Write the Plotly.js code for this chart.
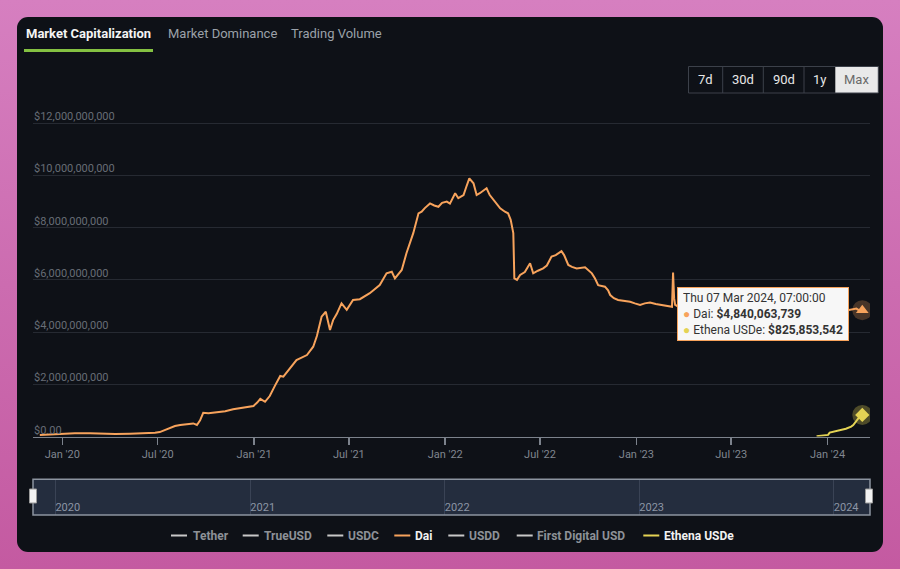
<!DOCTYPE html>
<html><head><meta charset="utf-8">
<script src="https://cdn.plot.ly/plotly-3.0.1.min.js"></script>
<style>
html,body{margin:0;padding:0;width:900px;height:569px;overflow:hidden;background:linear-gradient(180deg,#d67fc0 0%,#cc6cb0 50%,#c45aa1 100%);}
#card{position:absolute;left:17px;top:17px;width:866px;height:535px;border-radius:11px;background:#0e1117;}
#chart{position:absolute;left:0;top:0;width:900px;height:569px;}
</style></head><body>
<div id="card"></div><div id="chart"></div>
<script>
// ---------- DATA ----------
const daiDates = ['2019-11-19','2019-11-28','2019-12-08','2019-12-20','2020-01-01','2020-01-25','2020-02-23','2020-03-13','2020-03-25','2020-04-11','2020-05-09','2020-06-07','2020-06-26','2020-07-05','2020-07-15','2020-07-25','2020-08-03','2020-08-13','2020-08-22','2020-09-07','2020-09-14','2020-09-20','2020-09-26','2020-10-06','2020-10-18','2020-11-07','2020-11-22','2020-12-11','2020-12-31','2021-01-07','2021-01-13','2021-01-22','2021-01-31','2021-02-10','2021-02-20','2021-02-26','2021-03-11','2021-03-23','2021-04-12','2021-04-24','2021-05-01','2021-05-10','2021-05-18','2021-05-26','2021-06-01','2021-06-08','2021-06-17','2021-06-27','2021-07-09','2021-07-22','2021-08-10','2021-08-29','2021-09-11','2021-09-21','2021-09-27','2021-10-10','2021-10-19','2021-11-01','2021-11-11','2021-11-17','2021-11-23','2021-12-03','2021-12-11','2021-12-19','2021-12-26','2022-01-04','2022-01-10','2022-01-20','2022-01-26','2022-02-05','2022-02-10','2022-02-16','2022-02-24','2022-03-02','2022-03-08','2022-03-14','2022-03-21','2022-03-27','2022-04-02','2022-04-09','2022-04-16','2022-04-25','2022-05-01','2022-05-06','2022-05-11','2022-05-13','2022-05-18','2022-05-24','2022-06-02','2022-06-12','2022-06-18','2022-06-27','2022-07-07','2022-07-14','2022-07-23','2022-07-31','2022-08-11','2022-08-16','2022-08-24','2022-08-31','2022-09-09','2022-09-25','2022-10-08','2022-10-14','2022-10-20','2022-11-02','2022-11-08','2022-11-12','2022-11-19','2022-11-27','2022-12-08','2022-12-20','2022-12-29','2023-01-08','2023-01-17','2023-01-27','2023-02-07','2023-02-21','2023-03-02','2023-03-10','2023-03-12','2023-03-14','2023-03-16','2023-03-20','2023-04-15','2023-05-15','2023-06-15','2023-07-15','2023-08-15','2023-09-15','2023-10-15','2023-11-15','2023-12-15','2024-01-15','2024-02-11','2024-02-25','2024-03-02','2024-03-07 07:00:00'];
const daiCap = [0.06e9,0.07e9,0.08e9,0.09e9,0.10e9,0.12e9,0.12e9,0.11e9,0.10e9,0.10e9,0.11e9,0.12e9,0.14e9,0.17e9,0.25e9,0.33e9,0.40e9,0.44e9,0.46e9,0.50e9,0.44e9,0.62e9,0.91e9,0.89e9,0.92e9,0.97e9,1.04e9,1.10e9,1.17e9,1.30e9,1.44e9,1.33e9,1.55e9,1.95e9,2.32e9,2.29e9,2.62e9,2.93e9,3.12e9,3.44e9,3.85e9,4.59e9,4.78e9,4.08e9,4.46e9,4.70e9,5.10e9,4.85e9,5.23e9,5.26e9,5.49e9,5.80e9,6.25e9,6.31e9,6.06e9,6.38e9,7.02e9,7.79e9,8.55e9,8.61e9,8.75e9,8.93e9,8.85e9,8.80e9,8.95e9,9.00e9,8.92e9,9.32e9,9.13e9,9.25e9,9.55e9,9.89e9,9.70e9,9.25e9,9.32e9,9.40e9,9.51e9,9.25e9,9.10e9,8.95e9,8.74e9,8.61e9,8.55e9,8.30e9,7.79e9,6.06e9,6.00e9,6.19e9,6.30e9,6.64e9,6.25e9,6.35e9,6.44e9,6.55e9,6.89e9,6.95e9,7.10e9,6.95e9,6.57e9,6.50e9,6.44e9,6.48e9,6.25e9,6.05e9,5.80e9,5.74e9,5.60e9,5.42e9,5.30e9,5.23e9,5.20e9,5.16e9,5.10e9,5.04e9,5.10e9,5.13e9,5.08e9,5.04e9,5.00e9,4.97e9,6.28e9,5.30e9,5.04e9,5.00e9,4.65e9,4.90e9,4.60e9,4.45e9,5.30e9,5.35e9,5.25e9,5.30e9,5.20e9,5.00e9,4.85e9,4.90e9,4.82e9,4840063739];
const usdeDates = ['2023-12-11','2023-12-20','2024-01-02','2024-01-05','2024-01-15','2024-01-24','2024-02-05','2024-02-15','2024-02-19','2024-02-29','2024-03-07 07:00:00'];
const usdeCap = [0.01e9,0.03e9,0.06e9,0.15e9,0.20e9,0.25e9,0.30e9,0.38e9,0.44e9,0.70e9,825853542];

const seriesNames = ['Tether','TrueUSD','USDC','Dai','USDD','First Digital USD','Ethena USDe'];
const seriesColors = ['#7cb5ec','#434348','#90ed7d','#f7a35c','#8085e9','#f15c80','#e4d354'];
const seriesShown = [false,false,false,true,false,false,true];

const tabLabels = ['Market Capitalization','Market Dominance','Trading Volume'];
const rangeButtons = ['7d','30d','90d','1y','Max'];

const xTickVals = ['2020-01-01','2020-07-01','2021-01-01','2021-07-01','2022-01-01','2022-07-01','2023-01-01','2023-07-01','2024-01-01'];
const xTickText = ["Jan '20","Jul '20","Jan '21","Jul '21","Jan '22","Jul '22","Jan '23","Jul '23","Jan '24"];
const yTickVals = [0,2e9,4e9,6e9,8e9,10e9,12e9];
const yTickText = ['$0.00','$2,000,000,000','$4,000,000,000','$6,000,000,000','$8,000,000,000','$10,000,000,000','$12,000,000,000'];
const navTickVals = ['2020-01-01','2021-01-01','2022-01-01','2023-01-01','2024-01-01'];
const navTickText = ['2020','2021','2022','2023','2024'];

// ---------- LAYOUT HELPERS ----------
const H = 569, L = 33, R = 870;
const px = x => (x - L) / (R - L);
const py = y => (H - y) / H;
const FONT = 'Roboto, "Open Sans", sans-serif';
const DAI = seriesColors[3], USDE = seriesColors[6];

const last = a => a[a.length - 1];
const fmt = v => '$' + Math.round(v).toLocaleString('en-US');
function fmtDate(s) {
  const d = new Date(s.replace(' ', 'T'));
  const wd = ['Sun','Mon','Tue','Wed','Thu','Fri','Sat'][d.getDay()];
  const mo = ['Jan','Feb','Mar','Apr','May','Jun','Jul','Aug','Sep','Oct','Nov','Dec'][d.getMonth()];
  const p = n => String(n).padStart(2, '0');
  return `${wd} ${p(d.getDate())} ${mo} ${d.getFullYear()}, ${p(d.getHours())}:${p(d.getMinutes())}:${p(d.getSeconds())}`;
}

const traces = [
  {x: daiDates, y: daiCap, type: 'scatter', mode: 'lines', line: {color: DAI, width: 2}, hoverinfo: 'skip', showlegend: false},
  {x: usdeDates, y: usdeCap, type: 'scatter', mode: 'lines', line: {color: USDE, width: 2}, hoverinfo: 'skip', showlegend: false},
  {x: [last(daiDates)], y: [last(daiCap)], type: 'scatter', mode: 'markers', marker: {size: 20, color: 'rgba(247,163,92,0.25)'}, hoverinfo: 'skip', showlegend: false},
  {x: [last(daiDates)], y: [last(daiCap)], type: 'scatter', mode: 'markers', marker: {size: 11, symbol: 'triangle-up', color: DAI}, hoverinfo: 'skip', showlegend: false},
  {x: [last(usdeDates)], y: [last(usdeCap)], type: 'scatter', mode: 'markers', marker: {size: 20, color: 'rgba(228,211,84,0.3)'}, hoverinfo: 'skip', showlegend: false},
  {x: [last(usdeDates)], y: [last(usdeCap)], type: 'scatter', mode: 'markers', marker: {size: 11, symbol: 'diamond', color: USDE}, hoverinfo: 'skip', showlegend: false},
  {x: [], y: [], xaxis: 'x2', yaxis: 'y2', type: 'scatter', mode: 'lines', hoverinfo: 'skip', showlegend: false}
];

const shapes = [];
const annotations = [];

// y-axis labels placed on the library's y scale, sitting above each gridline
yTickVals.forEach((v, i) => annotations.push({xref: 'paper', yref: 'y', x: 0, y: v, xanchor: 'left', yanchor: 'bottom', xshift: -1.5, yshift: -2, showarrow: false,
  text: yTickText[i], font: {family: FONT, size: 11, color: '#676d76'}}));

// navigator
shapes.push({type: 'rect', xref: 'paper', yref: 'paper', x0: 0, x1: 1, y0: py(515), y1: py(479.3), fillcolor: '#242d3e', line: {width: 0}, layer: 'below'});
shapes.push({type: 'rect', xref: 'paper', yref: 'paper', x0: 0, x1: 1, y0: py(515), y1: py(479.3), fillcolor: 'rgba(0,0,0,0)', line: {color: '#8c94a0', width: 1.5}, layer: 'above'});
[33, 869].forEach(cx => shapes.push({type: 'rect', xref: 'paper', yref: 'paper', x0: px(cx - 3.5), x1: px(cx + 3.5), y0: py(503), y1: py(489), fillcolor: '#f2f2f2', line: {color: '#9a9a9a', width: 1}, layer: 'above'}));

// tabs
const tabX = [25, 167, 290];
tabLabels.forEach((t, i) => annotations.push({xref: 'paper', yref: 'paper', x: px(tabX[i] - 1), y: py(33.5), xanchor: 'left', yanchor: 'middle', showarrow: false,
  text: i === 0 ? '<b>' + t + '</b>' : t, font: {family: FONT, size: 13, color: i === 0 ? '#f4f4f4' : '#9ba1a9'}}));
shapes.push({type: 'line', xref: 'paper', yref: 'paper', x0: px(24), x1: px(153), y0: py(50.5), y1: py(50.5), line: {color: '#84c142', width: 3}});

// range buttons
const btnEdges = [688.5, 722.7, 763.3, 804, 835.3, 878.3];
shapes.push({type: 'rect', xref: 'paper', yref: 'paper', x0: px(btnEdges[4]), x1: px(btnEdges[5]), y0: py(93), y1: py(66.5), fillcolor: '#e9e9e9', line: {width: 0}});
shapes.push({type: 'rect', xref: 'paper', yref: 'paper', x0: px(btnEdges[0]), x1: px(btnEdges[5]), y0: py(93), y1: py(66.5), fillcolor: 'rgba(0,0,0,0)', line: {color: '#3c414a', width: 1}});
for (let i = 1; i < 4; i++) shapes.push({type: 'line', xref: 'paper', yref: 'paper', x0: px(btnEdges[i]), x1: px(btnEdges[i]), y0: py(93), y1: py(66.5), line: {color: '#3c414a', width: 1}});
rangeButtons.forEach((b, i) => annotations.push({xref: 'paper', yref: 'paper', x: px((btnEdges[i] + btnEdges[i + 1]) / 2), y: py(80), xanchor: 'center', yanchor: 'middle', showarrow: false,
  text: b, font: {family: FONT, size: 13, color: i === 4 ? '#6a6a6a' : '#e8e8e8'}}));

// custom legend
const legSym = [171, 242.7, 327.3, 394.3, 448.3, 516.7, 643.3];
const legTxt = [191.7, 263.3, 347.3, 414, 468.3, 535.7, 662.7];
seriesNames.forEach((n, i) => {
  shapes.push({type: 'line', xref: 'paper', yref: 'paper', x0: px(legSym[i]), x1: px(legSym[i] + 16), y0: py(535.5), y1: py(535.5),
    line: {color: seriesShown[i] ? seriesColors[i] : '#c8c8c8', width: 2}});
  annotations.push({xref: 'paper', yref: 'paper', x: px(legTxt[i] - 1), y: py(535.5), xanchor: 'left', yanchor: 'middle', showarrow: false,
    text: '<b>' + n + '</b>', font: {family: FONT, size: 12, color: seriesShown[i] ? '#f2f2f2' : '#8d9197'}});
});

// tooltip
const tipText = fmtDate(last(daiDates)) + '<br>' +
  `<span style="color:${DAI}">●</span> Dai: <b>${fmt(last(daiCap))}</b><br>` +
  `<span style="color:${USDE}">●</span> Ethena USDe: <b>${fmt(last(usdeCap))}</b>`;
annotations.push({xref: 'paper', yref: 'paper', x: px(677), y: py(287), xanchor: 'left', yanchor: 'top', showarrow: false,
  text: tipText, align: 'left', width: 160, height: 42, valign: 'middle', bgcolor: '#f7f7f7', bordercolor: DAI, borderwidth: 1, borderpad: 5,
  font: {family: FONT, size: 12, color: '#333333'}});

const layout = {
  width: 900, height: 569,
  margin: {l: L, r: 900 - R, t: 0, b: 0},
  paper_bgcolor: 'rgba(0,0,0,0)', plot_bgcolor: 'rgba(0,0,0,0)',
  showlegend: false, hovermode: false,
  xaxis: {type: 'date', domain: [0, 1], anchor: 'y', range: ['2019-11-06', '2024-03-22'], tickmode: 'array', tickvals: xTickVals, ticktext: xTickText,
    ticks: 'outside', ticklen: 7, tickwidth: 1.5, tickcolor: '#7c828c', showline: true, linecolor: '#7c828c', linewidth: 1.5,
    showgrid: false, zeroline: false, tickfont: {family: FONT, size: 11, color: '#80868f'}, fixedrange: true},
  yaxis: {domain: [py(436.5), py(107.6)], anchor: 'x', range: [0, 12.6e9], tickmode: 'array', tickvals: yTickVals,
    showticklabels: false, ticks: '', showgrid: true, gridcolor: '#262a32', gridwidth: 1, zeroline: false, showline: false, fixedrange: true},
  xaxis2: {type: 'date', domain: [0, 1], anchor: 'y2', range: ['2019-11-20', '2024-03-09'], tickmode: 'array', tickvals: navTickVals, ticktext: navTickText,
    ticklabelposition: 'inside right', ticklabelstandoff: -4, ticks: '', showgrid: true, gridcolor: '#3a4355', gridwidth: 1, showline: false, zeroline: false,
    tickfont: {family: FONT, size: 11, color: '#8c95a5'}, fixedrange: true},
  yaxis2: {domain: [py(515), py(479.3)], anchor: 'x2', range: [0, 1], visible: false, fixedrange: true},
  shapes: shapes,
  annotations: annotations
};

Plotly.newPlot('chart', traces, layout, {displayModeBar: false, staticPlot: true});
</script></body></html>
